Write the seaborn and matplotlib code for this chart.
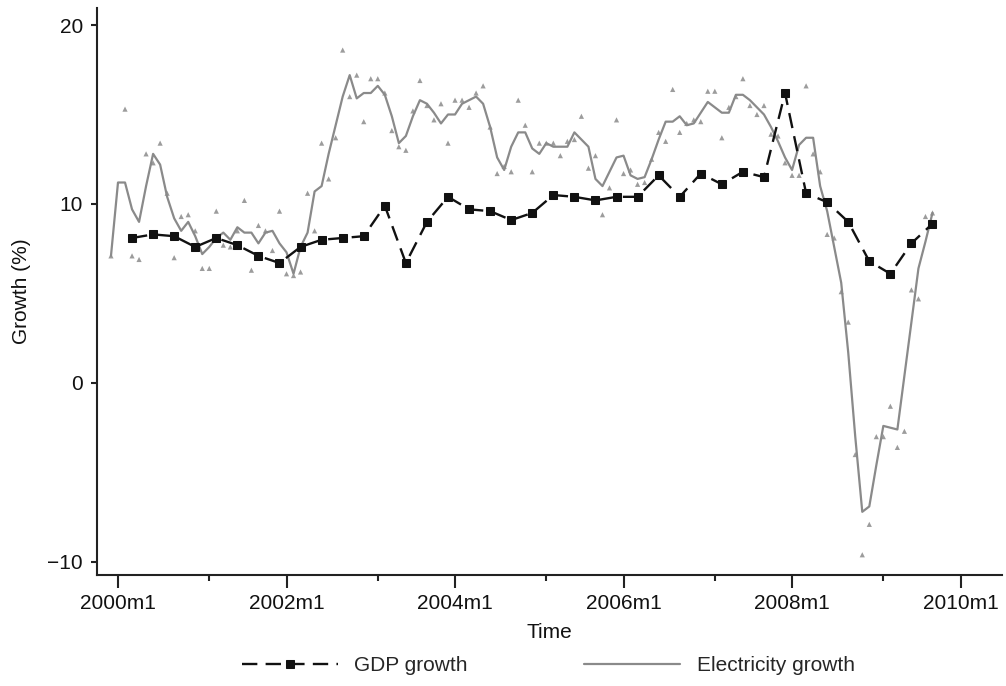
import numpy as np
import pandas as pd
import seaborn as sns
import matplotlib.pyplot as plt
from matplotlib.ticker import FixedLocator

# months counted from 2000m1 (0 = 2000m1)
gdp_month = [2, 5, 8, 11, 14, 17, 20, 23, 26, 29, 32, 35, 38, 41, 44, 47, 50, 53, 56, 59,
             62, 65, 68, 71, 74, 77, 80, 83, 86, 89, 92, 95, 98, 101, 104, 107, 110, 113, 116]
gdp_growth = [8.1, 8.3, 8.2, 7.6, 8.1, 7.7, 7.1, 6.7, 7.6, 8.0, 8.1, 8.2, 9.9, 6.7, 9.0, 10.4,
              9.7, 9.6, 9.1, 9.5, 10.5, 10.4, 10.2, 10.4, 10.4, 11.6, 10.4, 11.7, 11.1, 11.8,
              11.5, 16.2, 10.6, 10.1, 9.0, 6.8, 6.1, 7.8, 8.9]

elec_line_month = list(range(-1, 117))
elec_line = [7.1, 11.2, 11.2, 9.7, 9.0, 11.0, 12.8, 12.2, 10.4, 9.2, 8.5, 9.0, 8.2, 7.2, 7.6,
             8.1, 8.4, 8.0, 8.7, 8.4, 8.4, 7.8, 8.4, 8.5, 7.8, 7.3, 6.1, 7.6, 8.4, 10.7, 11.0,
             12.8, 14.4, 16.0, 17.2, 15.9, 16.2, 16.2, 16.6, 16.1, 14.9, 13.4, 13.8, 14.9, 15.8,
             15.6, 15.1, 14.5, 15.0, 15.0, 15.6, 15.8, 16.0, 15.6, 14.3, 12.6, 11.9, 13.2, 14.0,
             14.0, 13.1, 12.8, 13.4, 13.2, 13.2, 13.2, 14.0, 13.6, 13.2, 11.4, 11.0, 11.8, 12.6,
             12.7, 11.6, 11.4, 11.5, 12.5, 13.6, 14.6, 14.6, 14.9, 14.4, 14.5, 15.1, 15.7, 15.4,
             15.1, 15.1, 16.1, 16.1, 15.8, 15.4, 15.0, 14.3, 13.5, 12.6, 11.9, 13.3, 13.7, 13.7,
             11.0, 9.6, 7.6, 5.6, 1.7, -3.0, -7.2, -6.9, -4.6, -2.4, -2.5, -2.6, 0.4, 3.4, 6.4,
             7.9, 9.5]

elec_dot_month = [-1, 1, 2, 3, 4, 5, 6, 7, 8, 9, 10, 11, 12, 13, 14, 15, 16, 17, 18, 19, 20,
                  21, 22, 23, 24, 25, 26, 27, 28, 29, 30, 31, 32, 33, 34, 35, 36, 37, 38, 39,
                  40, 41, 42, 43, 44, 45, 46, 47, 48, 49, 50, 51, 52, 53, 54, 55, 56, 57, 58,
                  59, 60, 61, 62, 63, 64, 65, 66, 67, 68, 69, 70, 71, 72, 73, 74, 75, 76, 77,
                  78, 79, 80, 81, 82, 83, 84, 85, 86, 87, 88, 89, 90, 91, 92, 93, 94, 95, 96,
                  97, 98, 99, 100, 101, 102, 103, 104, 105, 106, 107, 108, 109, 110, 111, 112,
                  113, 114, 115, 116]
elec_dot = [7.1, 15.3, 7.1, 6.9, 12.8, 12.3, 13.4, 10.6, 7.0, 9.3, 9.4, 8.5, 6.4, 6.4, 9.6,
            7.7, 7.6, 8.5, 10.2, 6.3, 8.8, 8.5, 7.4, 9.6, 6.1, 6.0, 6.2, 10.6, 8.5, 13.4, 11.4,
            13.7, 18.6, 16.0, 17.2, 14.6, 17.0, 17.0, 16.2, 14.1, 13.2, 13.0, 15.2, 16.9, 15.5,
            14.7, 15.6, 13.4, 15.8, 15.8, 15.4, 16.2, 16.6, 14.3, 11.7, 12.1, 11.8, 15.8, 14.4,
            11.8, 13.4, 13.4, 13.4, 12.7, 13.5, 13.6, 14.9, 12.0, 12.7, 9.4, 10.9, 14.7, 11.7,
            11.9, 11.1, 11.2, 12.5, 14.0, 13.5, 16.4, 14.0, 14.5, 14.7, 14.6, 16.3, 16.3, 13.7,
            15.4, 16.0, 17.0, 15.5, 15.0, 15.5, 13.9, 13.8, 12.3, 11.6, 11.6, 16.6, 12.8, 11.8,
            8.3, 8.1, 5.1, 3.4, -4.0, -9.6, -7.9, -3.0, -3.0, -1.3, -3.6, -2.7, 5.2, 4.7, 9.3, 9.5]

major_months = [0, 24, 48, 72, 96, 120]
major_labels = ["2000m1", "2002m1", "2004m1", "2006m1", "2008m1", "2010m1"]
minor_months = [13, 37, 61, 85, 109]
y_ticks = [-10, 0, 10, 20]
y_labels = ["\u221210", "0", "10", "20"]

gdp_df = pd.DataFrame({"month": gdp_month, "growth": gdp_growth})
line_df = pd.DataFrame({"month": elec_line_month, "growth": elec_line})
dot_df = pd.DataFrame({"month": elec_dot_month, "growth": elec_dot})

sns.set_style("ticks")
plt.rcParams['font.family'] = ['Liberation Sans', 'DejaVu Sans']
fs = 15

fig = plt.figure(figsize=(10.06, 6.86), dpi=100)
ax = fig.add_axes([97 / 1006, 111 / 686, (1002 - 97) / 1006, (678 - 111) / 686])

sns.scatterplot(data=dot_df, x="month", y="growth", ax=ax, marker="^", s=14,
                color="#9c9c9c", edgecolor="none", legend=False, zorder=2)
sns.lineplot(data=line_df, x="month", y="growth", ax=ax, color="#8a8a8a", lw=1.6,
             label="Electricity growth", zorder=3)
sns.lineplot(data=gdp_df, x="month", y="growth", ax=ax, color="#111111", lw=1.7,
             marker="s", markersize=6, markeredgecolor="#111111",
             linestyle=(0, (6.5, 3.5)), label="GDP growth", zorder=4)

ax.set_xlim(-2.99, 125.9)
ax.set_ylim(-10.73, 20.95)
ax.xaxis.set_major_locator(FixedLocator(major_months))
ax.set_xticklabels(major_labels)
ax.xaxis.set_minor_locator(FixedLocator(minor_months))
ax.set_yticks(y_ticks)
ax.set_yticklabels(y_labels)

for s in ["top", "right"]:
    ax.spines[s].set_visible(False)
for s in ["left", "bottom"]:
    ax.spines[s].set_linewidth(1.5)
    ax.spines[s].set_color("#222222")

ax.tick_params(axis="x", which="major", length=9, width=1.5, pad=5, labelsize=fs, colors="#222222")
ax.tick_params(axis="x", which="minor", length=4.5, width=1.5, colors="#222222")
ax.tick_params(axis="y", length=4, width=1.5, pad=6, labelsize=fs, colors="#222222")
for t in ax.get_xticklabels() + ax.get_yticklabels():
    t.set_color("#111111")

ax.set_xlabel("Time", fontsize=fs, labelpad=7, color="#111111")
ax.set_ylabel("Growth (%)", fontsize=fs, labelpad=12, color="#111111")

handles, labels = ax.get_legend_handles_labels()
order = [labels.index("GDP growth"), labels.index("Electricity growth")]
ax.get_legend().remove()
fig.legend([handles[i] for i in order], [labels[i] for i in order],
           loc="lower center", bbox_to_anchor=(0.545, -0.012), ncol=2, frameon=False,
           fontsize=fs, handlelength=4.6, handletextpad=0.8, columnspacing=5.6, numpoints=1)

fig.savefig("out.png", dpi=100)
